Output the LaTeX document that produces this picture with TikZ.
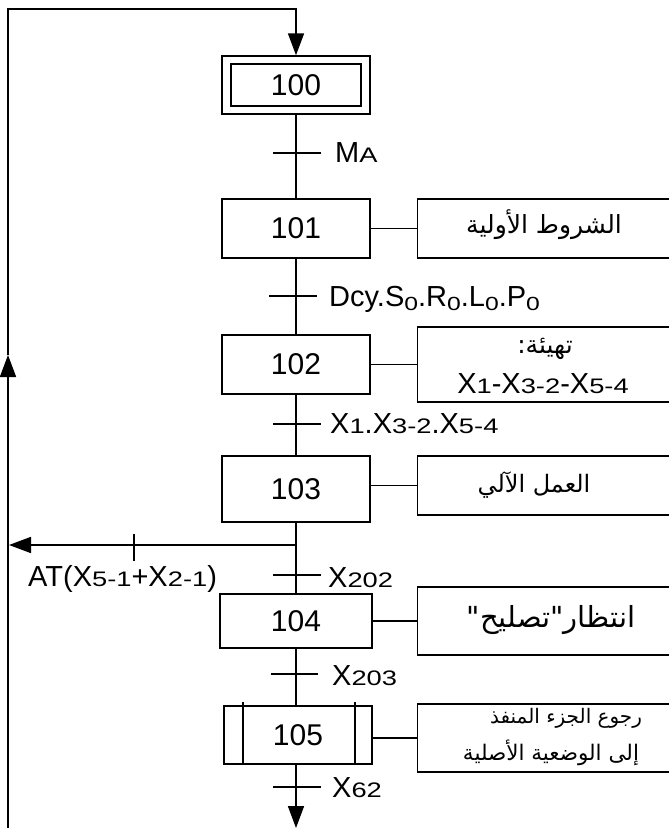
\documentclass[tikz,border=0pt]{standalone}
\usepackage{fontspec}
\setmainfont{Liberation Sans}
\newfontfamily\smallwide[FakeStretch=1.3]{Liberation Sans}
\newfontfamily\arabicfont[Script=Arabic]{DejaVu Sans}
\TeXXeTstate=1
\usetikzlibrary{arrows.meta}
\newcommand\sm[1]{{\smallwide\fontsize{21}{21}\selectfont #1}}
\newcommand\lowz[1]{\raisebox{-4.5pt}{\smallwide\fontsize{19}{19}\selectfont #1}}
\newcommand\artxt[1]{{\arabicfont\beginR #1\endR}}
\begin{document}
\begin{tikzpicture}[x=1pt,y=-1pt,
  stepbox/.style={draw, line width=1.4pt, inner sep=0pt, font=\fontsize{30}{30}\selectfont},
  actbox/.style={draw, line width=1.4pt, inner sep=0pt, anchor=west, minimum width=254pt},
  flow/.style={line width=1.7pt},
  tickline/.style={line width=1.6pt},
  lab/.style={anchor=base west, inner sep=0pt, font=\fontsize{29}{29}\selectfont},
  arlab/.style={anchor=base, inner sep=0pt, font=\arabicfont\fontsize{24}{28}\selectfont},
  latlab/.style={anchor=base, inner sep=0pt, font=\fontsize{29}{29}\selectfont},
  tip/.style={-{Triangle[length=22pt,width=16pt]}}]
\useasboundingbox (0,0) rectangle (669,828);
\clip (0,0) rectangle (669,828);
% steps
\node[stepbox, minimum width=148pt, minimum height=58pt] (s100) at (296,85) {};
\node[stepbox, minimum width=130pt, minimum height=42pt] (s100i) at (296,85) {100};
\node[stepbox, minimum width=148pt, minimum height=59pt] (s101) at (296,228.5) {101};
\node[stepbox, minimum width=148pt, minimum height=59pt] (s102) at (296,364.5) {102};
\node[stepbox, minimum width=148pt, minimum height=66pt] (s103) at (296,489) {103};
\node[stepbox, minimum width=152pt, minimum height=54pt] (s104) at (296,621) {104};
\node[stepbox, minimum width=148pt, minimum height=58pt] (s105) at (298,735) {105};
\draw[line width=1.4pt] ([xshift=-55pt,yshift=3pt]s105.north) -- ([xshift=-55pt]s105.south);
\draw[line width=1.4pt] ([xshift=57pt,yshift=3pt]s105.north) -- ([xshift=57pt]s105.south);
% actions
\node[actbox, minimum height=59pt] (a101) at (417,228.5) {};
\node[actbox, minimum height=75pt] (a102) at (417,364.5) {};
\node[actbox, minimum height=59pt] (a103) at (417,485.5) {};
\node[actbox, minimum height=68pt] (a104) at (417,621) {};
\node[actbox, minimum height=68pt] (a105) at (417,738) {};
\node[arlab, font=\arabicfont\fontsize{25}{28}\selectfont] (a101t) at (544,233) {\artxt{الشروط الأولية}};
\node[arlab, font=\arabicfont\fontsize{25}{28}\selectfont] (a102t1) at (545,353) {\artxt{تهيئة:}};
\node[latlab] (a102t2) at (543,393) {X\sm{1}-X\sm{3-2}-X\sm{5-4}};
\node[arlab] (a103t) at (534,492) {\artxt{العمل الآلي}};
\node[arlab, font=\arabicfont\fontsize{29}{30}\selectfont] (a104t) at (551,627) {\artxt{انتظار"تصليح"}};
\node[arlab, font=\arabicfont\fontsize{20}{24}\selectfont] (a105t1) at (566,723) {\artxt{رجوع الجزء المنفذ}};
\node[arlab, font=\arabicfont\fontsize{21.5}{24}\selectfont] (a105t2) at (551,760) {\artxt{إلى الوضعية الأصلية}};
% links
\draw[flow, line width=1.4pt] (s101.east) -- (a101.west);
\draw[flow, line width=1.4pt] (s102.east) -- (a102.west);
\draw[flow, line width=1.4pt] (a103.west -| s103.east) -- (a103.west);
\draw[flow, line width=1.4pt] (s104.east) -- (a104.west);
\draw[flow, line width=1.4pt] (a105.west -| s105.east) -- (a105.west);
% flow
\coordinate (t1) at (296,153);
\coordinate (t2) at (296,296);
\coordinate (t3) at (296,424);
\coordinate (t4) at (296,575);
\coordinate (t5) at (296,674);
\coordinate (t6) at (296,787);
\draw[flow] (s100.south) -- (s101.north);
\draw[flow] (s101.south) -- (s102.north);
\draw[flow] (s102.south) -- (s103.north);
\draw[flow] (s103.south) -- (s104.north);
\draw[flow] (s104.south) -- (s104.south |- s105.north);
\coordinate (bend) at (296,828);
\draw[flow,tip] (s104.south |- s105.south) -- (bend);
% transitions
\draw[tickline] ([xshift=-23pt]t1) -- ([xshift=25pt]t1);
\draw[tickline] ([xshift=-27pt]t2) -- ([xshift=21pt]t2);
\draw[tickline] ([xshift=-23pt]t3) -- ([xshift=25pt]t3);
\draw[tickline] ([xshift=-23pt]t4) -- ([xshift=25pt]t4);
\draw[tickline] ([xshift=-25pt]t5) -- ([xshift=22pt]t5);
\draw[tickline] ([xshift=-23pt]t6) -- ([xshift=25pt]t6);
\node[lab] (l1) at (335,162) {M\sm{A}};
\node[lab] (l2) at (329,306) {Dcy.S\lowz{0}.R\lowz{0}.L\lowz{0}.P\lowz{0}};
\node[lab] (l3) at (330,433) {X\sm{1}.X\sm{3-2}.X\sm{5-4}};
\node[lab] (l4) at (328,587) {X\sm{202}};
\node[lab] (l5) at (332,685) {X\sm{203}};
\node[lab] (l6) at (332,797) {X\sm{62}};
% branch
\coordinate (br) at (296,545);
\coordinate (lb) at (9,545);
\draw[flow,tip] (br) -- (lb);
\coordinate (bt) at (134,545);
\draw[tickline] ([yshift=11pt]bt) -- ([yshift=-16pt]bt);
\node[lab] (l7) at (28,586) {AT(X\sm{5-1}+X\sm{2-1})};
% loop
\coordinate (lbot) at (8,832);
\coordinate (lmid) at (8,355);
\coordinate (ltop) at (8,9);
\coordinate (rtop) at (296,9);
\draw[flow,tip] (lbot) -- (lmid);
\draw[flow,tip] (lmid) -- (ltop) -- (rtop) -- (s100.north);
\end{tikzpicture}
\end{document}
